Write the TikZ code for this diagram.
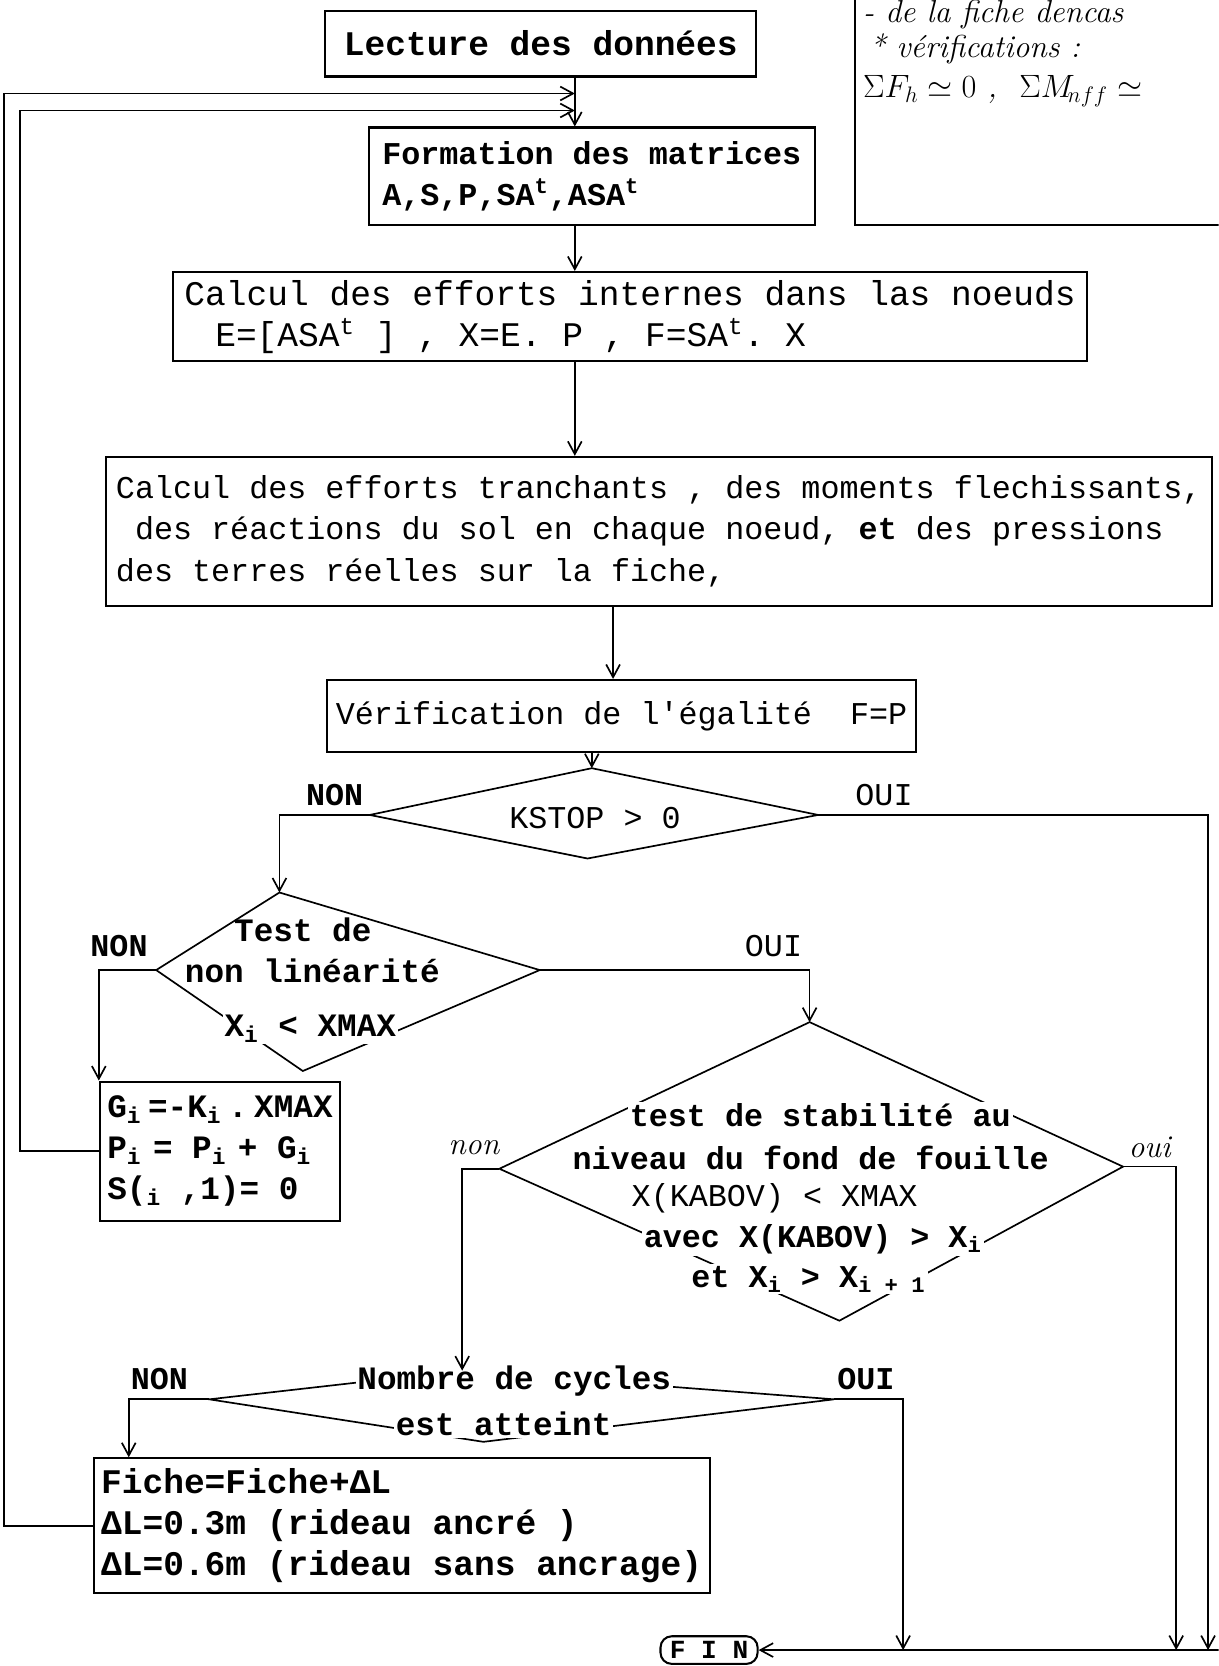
\documentclass[tikz,border=0pt]{standalone}
\usepackage{fontspec}
\setmonofont{Liberation Mono}
\usetikzlibrary{arrows.meta,positioning,calc}
\newcommand\ttreg[1]{\fontsize{#1}{22}\selectfont\ttfamily}
\newcommand\ttbold[1]{\fontsize{#1}{22}\selectfont\ttfamily\bfseries}
\newcommand\handfont{\fontsize{17}{21}\selectfont\itshape}
\tikzset{
  procbox/.style ={rectangle, draw, line width=1.1pt, inner xsep=4pt, inner ysep=0pt, align=left},
  decision/.style={draw, line width=0.9pt, line join=miter},
  dectext/.style ={fill=white, inner sep=1pt},
  flow/.style    ={-{Straight Barb[length=2.4mm,width=2.6mm]}, line width=0.9pt},
  answer/.style  ={font=\ttreg{17}},
  answerb/.style ={font=\ttbold{17}},
  handlbl/.style ={font=\handfont, inner sep=0pt},
  finbox/.style  ={rectangle, rounded corners=6pt, draw, line width=1.1pt, font=\ttbold{14},
                   inner xsep=5pt, minimum height=0.52cm, inner ysep=0pt},
}
\begin{document}
\begin{tikzpicture}[x=0.02cm, y=-0.02cm]
  \useasboundingbox (0,0) rectangle (1147,1568);
  \clip (0,0) rectangle (1147,1568);
  \coordinate (spine) at (541,0);

  % process boxes
  \node[procbox, font=\ttbold{18.5}, minimum width=8.12cm, minimum height=1.24cm] (lecture) at (509,41) {Lecture des données};
  \node[procbox, font=\ttbold{17}, minimum width=8.4cm, minimum height=1.84cm] (formation) at (557,166)
    {Formation des matrices\\A,S,P,SA\textsuperscript{t},ASA\textsuperscript{t}};
  \node[procbox, font=\ttreg{18.5}, minimum width=17.2cm, minimum height=1.68cm] (calcint) at (593,298)
    {Calcul des efforts internes dans las noeuds\\\hspace*{0.58cm}E=[ASA\textsuperscript{t} ] , X=E. P , F=SA\textsuperscript{t}. X};
  \node[procbox, font=\ttreg{17}, minimum width=20.82cm, minimum height=2.8cm] (calcmom) at (620,500)
    {Calcul des efforts tranchants , des moments flechissants,\\\ des réactions du sol en chaque noeud, \textbf{et} des pressions\\des terres réelles sur la fiche,};
  \node[procbox, font=\ttreg{17}, minimum width=11.08cm, minimum height=1.36cm] (verif) at (585,674)
    {Vérification de l'égalité\ \ F=P};
  \node[procbox, font=\ttbold{17.5}, minimum width=4.3cm, minimum height=2.62cm, anchor=north west] (gbox) at (93,1017)
    {G\textsubscript{i}\hspace{0.2em}=-K\textsubscript{i}\hspace{0.2em}.\hspace{0.2em}XMAX\\P\textsubscript{i}\hspace{0.35em}= P\textsubscript{i}\hspace{0.35em}+ G\textsubscript{i}\\S(\textsubscript{i} ,1)= 0};
  \node[procbox, font=\ttbold{18.5}, minimum width=11.38cm, minimum height=2.54cm] (fiche) at (378,1436)
    {Fiche=Fiche+ΔL\\ΔL=0.3m (rideau ancré )\\ΔL=0.6m (rideau sans ancrage)};
  \node[finbox, anchor=east] (fin) at (714,1553) {F I N};

  % handwritten note
  \draw[line width=1.2pt] (805,0) -- (805,212) -- (1147,212);
  \node[handlbl, anchor=west] (note1) at (812,14) {- de la fiche dencas};
  \node[handlbl, anchor=west] (note2) at (818,46) {* vérifications :};
  \node[handlbl, anchor=west] (note3) at (812,86) {$\Sigma F_h \simeq 0$ , \ $\Sigma M_{\!nff} \simeq$};

  % decisions
  \coordinate (ks-t) at (557,723);  \coordinate (ks-l) at (348,767);
  \coordinate (ks-r) at (770,767);  \coordinate (ks-b) at (553,808);
  \draw[decision] (ks-t) -- (ks-r) -- (ks-b) -- (ks-l) -- cycle;
  \node[font=\ttreg{17}] (kstop) at (560,770) {KSTOP > 0};

  \coordinate (te-t) at (263,840);  \coordinate (te-l) at (147,913);
  \coordinate (te-r) at (508,913);  \coordinate (te-b) at (285,1008);
  \draw[decision] (te-t) -- (te-r) -- (te-b) -- (te-l) -- cycle;
  \node[font=\ttbold{17.5}] (test1) at (285,875) {Test de};
  \node[font=\ttbold{17.5}, dectext] (test2) at (294,914) {non linéarité};
  \node[font=\ttbold{17.5}, dectext] (test3) at (292,968) {X\textsubscript{i} < XMAX};

  \coordinate (st-t) at (762,962);  \coordinate (st-l) at (470,1100);
  \coordinate (st-r) at (1057,1098); \coordinate (st-b) at (790,1243);
  \draw[decision] (st-t) -- (st-r) -- (st-b) -- (st-l) -- cycle;
  \node[font=\ttbold{17}, dectext] (stab1) at (772,1050) {test de stabilité au};
  \node[font=\ttbold{17}, dectext] (stab2) at (763,1090) {niveau du fond de fouille};
  \node[font=\ttreg{17}, dectext] (stab3) at (729,1128) {X(KABOV) < XMAX};
  \node[font=\ttbold{17}, dectext] (stab4) at (765,1166) {avec X(KABOV) > X\textsubscript{i}};
  \node[font=\ttbold{17}, dectext] (stab5) at (761,1204) {et X\textsubscript{i} > X\textsubscript{i + 1}};

  \coordinate (nb-t) at (435,1290);  \coordinate (nb-l) at (197,1317);
  \coordinate (nb-r) at (785,1317);  \coordinate (nb-b) at (455,1357);
  \draw[decision] (nb-t) -- (nb-r) -- (nb-b) -- (nb-l) -- cycle;
  \node[font=\ttbold{17.5}, dectext] (nomb1) at (484,1300) {Nombre de cycles};
  \node[font=\ttbold{17.5}, dectext] (nomb2) at (474,1340) {est atteint};

  % branch labels
  \node[answerb] (non1) at (315,748) {NON};
  \node[answer]  (oui1) at (832,748) {OUI};
  \node[answerb] (non2) at (112,890) {NON};
  \node[answer]  (oui2) at (728,890) {OUI};
  \node[handlbl] (non3) at (446,1080) {non};
  \node[handlbl] (oui3) at (1082,1080) {oui};
  \node[answerb] (non4) at (150,1298) {NON};
  \node[answerb] (oui4) at (815,1298) {OUI};

  % main flow
  \draw[flow] (lecture.south -| spine) -- (formation.north -| spine);
  \draw[flow] (formation.south -| spine) -- (calcint.north -| spine);
  \draw[flow] (calcint.south -| spine) -- (calcmom.north -| spine);
  \draw[flow] ([xshift=-0.86cm]calcmom.south) -- ([xshift=-0.16cm]verif.north);
  \draw[flow] (verif.south -| ks-t) -- (ks-t);
  \draw[flow] (ks-l) -| (te-t);
  \draw[flow] (te-l) -| (gbox.north west);
  \draw[flow] (te-r) -| (st-t);
  \draw[flow] (st-l) -| (nb-t);
  \draw[flow] (nb-l) -| ([xshift=0.68cm]fiche.north west);

  % exits to FIN
  \coordinate (busA) at (850,1553);
  \coordinate (busB) at (1107,1553);
  \coordinate (busC) at (1137,1553);
  \coordinate (busR) at (1147,1553);
  \draw[flow] (nb-r) -| (busA);
  \draw[flow] (st-r) -| (busB);
  \draw[flow] (ks-r) -| (busC);
  \draw[flow] (busR) -- (fin.east);

  % loop returns
  \coordinate (loopout) at (4,88);
  \coordinate (loopin) at (19,104);
  \draw[flow] (fiche.west) -| (loopout) -- (loopout -| spine);
  \draw[flow] (gbox.west) -| (loopin) -- (loopin -| spine);
\end{tikzpicture}
\end{document}
